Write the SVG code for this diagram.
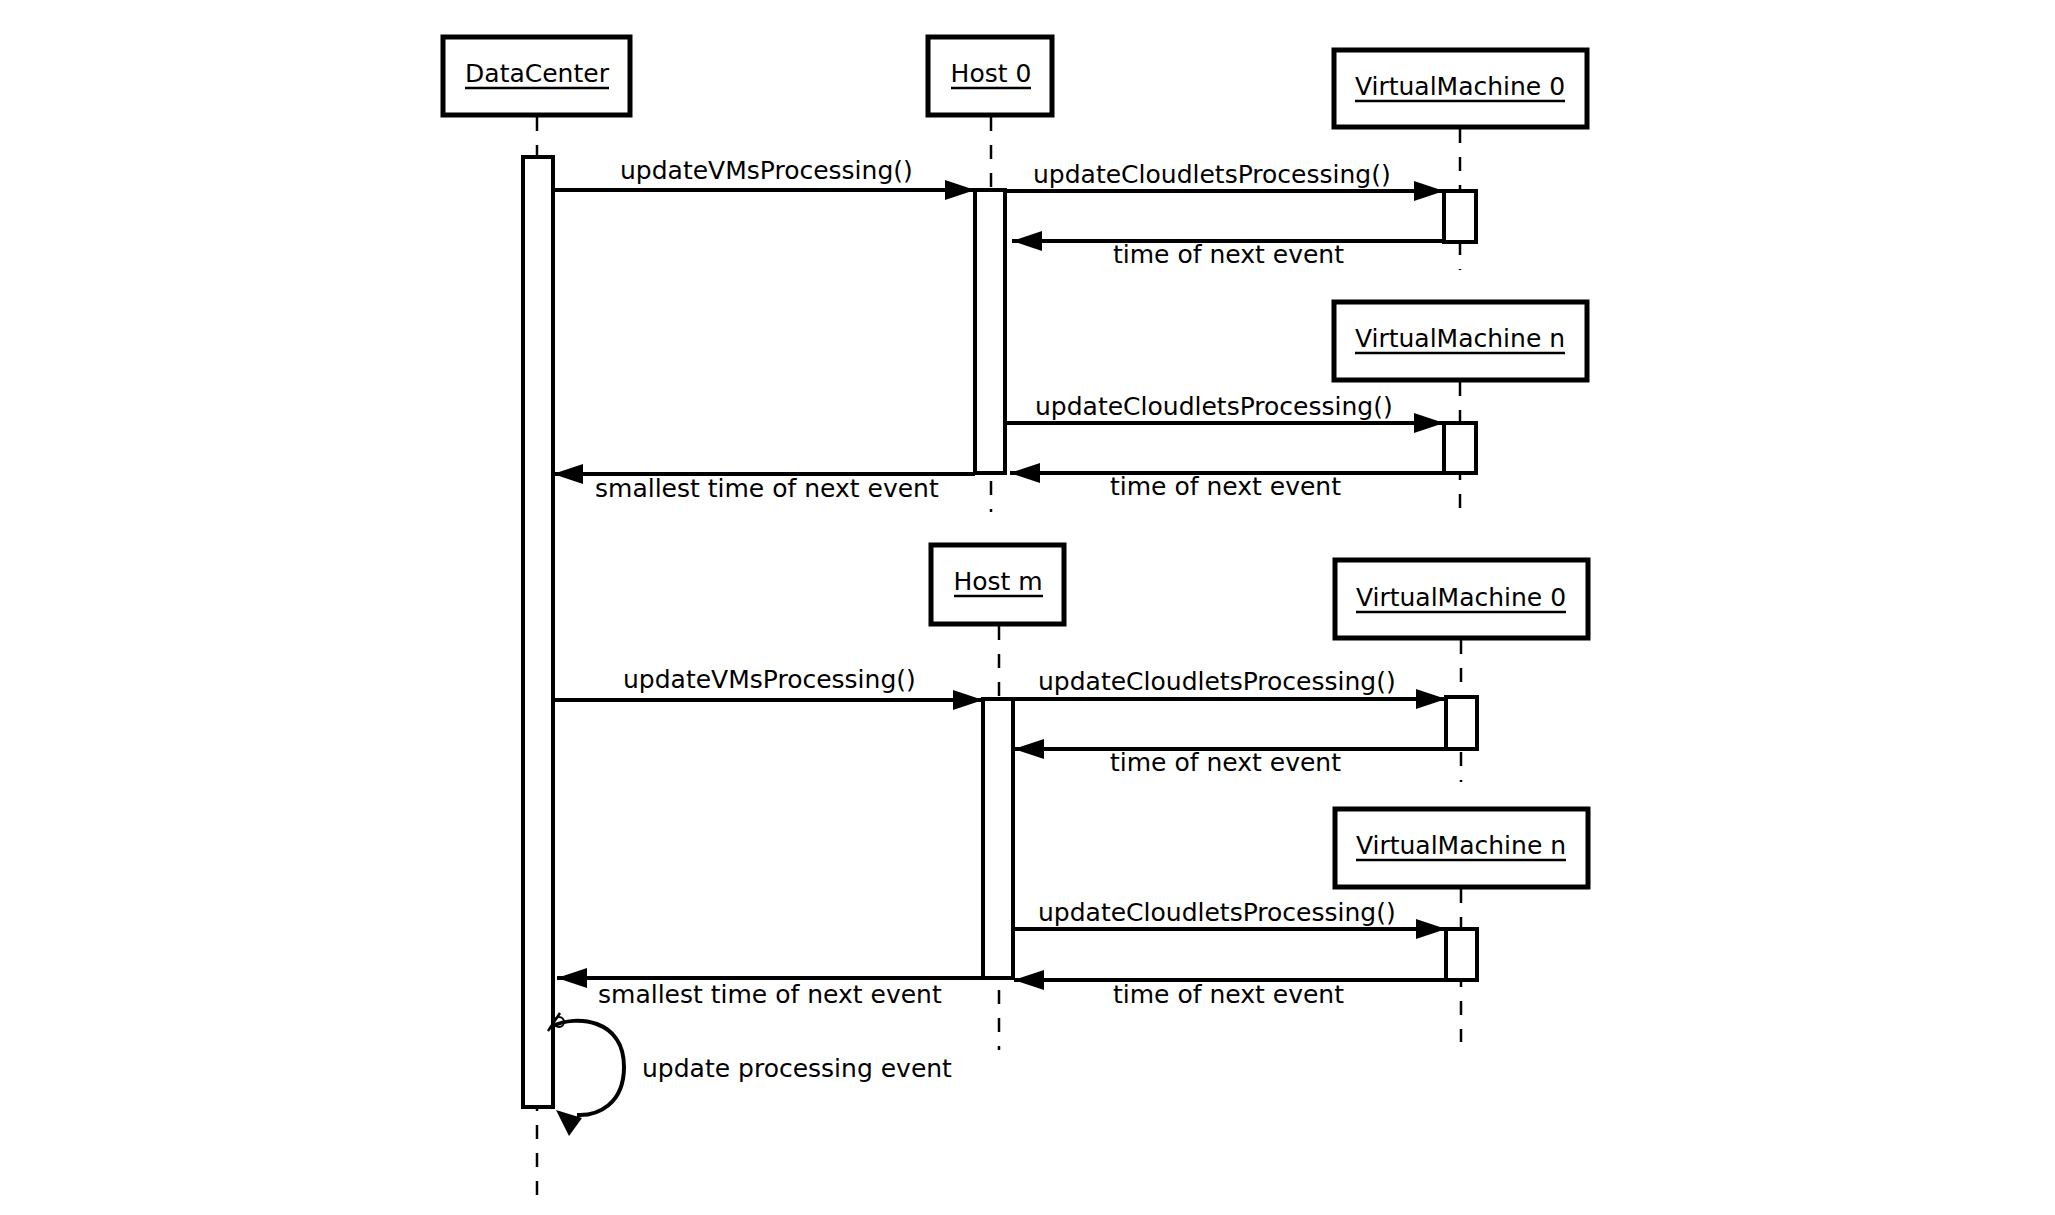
<svg xmlns="http://www.w3.org/2000/svg" width="2055" height="1215" viewBox="0 0 2055 1215">
<style>
.box{fill:#fff;stroke:#000;stroke-width:5}
.act{fill:#fff;stroke:#000;stroke-width:4}
.life{stroke:#000;stroke-width:2.5;stroke-dasharray:14 14;fill:none}
.msg{stroke:#000;stroke-width:4;fill:none;marker-end:url(#ah)}
.ul{stroke:#000;stroke-width:2.5}
.t{font-family:"DejaVu Sans",sans-serif;font-size:25px;fill:#000}
.n{font-family:"DejaVu Sans",sans-serif;font-size:25px;fill:#000;text-anchor:middle}
</style>
<defs>
<marker id="ah" markerUnits="userSpaceOnUse" markerWidth="32" markerHeight="20" refX="30" refY="10" orient="auto">
<path d="M0,0 L30,10 L0,20 Z" fill="#000"/>
</marker>
</defs>
<rect width="2055" height="1215" fill="#fff"/>

<g id="lifelines">
<line class="life" x1="537" y1="117" x2="537" y2="1198"/>
<line class="life" x1="991" y1="117" x2="991" y2="512"/>
<line class="life" x1="1460" y1="129" x2="1460" y2="270"/>
<line class="life" x1="1460" y1="382" x2="1460" y2="522"/>
<line class="life" x1="999" y1="626" x2="999" y2="1050"/>
<line class="life" x1="1461" y1="640" x2="1461" y2="782"/>
<line class="life" x1="1461" y1="889" x2="1461" y2="1042"/>
</g>

<g id="DataCenter">
<rect class="box" x="443" y="37" width="187" height="78"/>
<text class="n" x="537" y="82">DataCenter</text>
<line class="ul" x1="465" y1="88" x2="609" y2="88"/>
<rect class="act" x="523" y="157" width="30" height="950"/>
</g>

<g id="Host0">
<rect class="box" x="928" y="37" width="124" height="78"/>
<text class="n" x="991" y="82">Host 0</text>
<line class="ul" x1="951" y1="88" x2="1031" y2="88"/>
<rect class="act" x="975" y="190" width="30" height="283"/>
</g>

<g id="VM0a">
<rect class="box" x="1334" y="50" width="253" height="77"/>
<text class="n" x="1460" y="95">VirtualMachine 0</text>
<line class="ul" x1="1355" y1="101" x2="1565" y2="101"/>
<rect class="act" x="1444" y="191" width="32" height="51"/>
</g>

<g id="VMna">
<rect class="box" x="1334" y="302" width="253" height="78"/>
<text class="n" x="1460" y="347">VirtualMachine n</text>
<line class="ul" x1="1355" y1="353" x2="1565" y2="353"/>
<rect class="act" x="1444" y="423" width="32" height="50"/>
</g>

<g id="Hostm">
<rect class="box" x="931" y="545" width="133" height="79"/>
<text class="n" x="998" y="590">Host m</text>
<line class="ul" x1="954" y1="596" x2="1043" y2="596"/>
<rect class="act" x="983" y="699" width="30" height="279"/>
</g>

<g id="VM0b">
<rect class="box" x="1335" y="560" width="253" height="78"/>
<text class="n" x="1461" y="606">VirtualMachine 0</text>
<line class="ul" x1="1356" y1="612" x2="1566" y2="612"/>
<rect class="act" x="1446" y="697" width="31" height="52"/>
</g>

<g id="VMnb">
<rect class="box" x="1335" y="809" width="253" height="78"/>
<text class="n" x="1461" y="854">VirtualMachine n</text>
<line class="ul" x1="1356" y1="860" x2="1566" y2="860"/>
<rect class="act" x="1446" y="929" width="31" height="51"/>
</g>

<g id="connectors">
<line class="msg" x1="553" y1="190" x2="975" y2="190"/>
<text class="t" x="620" y="179">updateVMsProcessing()</text>
<line class="msg" x1="1005" y1="191" x2="1444" y2="191"/>
<text class="t" x="1033" y="183">updateCloudletsProcessing()</text>
<line class="msg" x1="1444" y1="241" x2="1012" y2="241"/>
<text class="t" x="1113" y="263">time of next event</text>

<line class="msg" x1="1005" y1="423" x2="1444" y2="423"/>
<text class="t" x="1035" y="415">updateCloudletsProcessing()</text>
<line class="msg" x1="1444" y1="473" x2="1010" y2="473"/>
<text class="t" x="1110" y="495">time of next event</text>
<line class="msg" x1="975" y1="474" x2="553" y2="474"/>
<text class="t" x="595" y="497">smallest time of next event</text>

<line class="msg" x1="553" y1="700" x2="983" y2="700"/>
<text class="t" x="623" y="688">updateVMsProcessing()</text>
<line class="msg" x1="1013" y1="699" x2="1446" y2="699"/>
<text class="t" x="1038" y="690">updateCloudletsProcessing()</text>
<line class="msg" x1="1446" y1="749" x2="1014" y2="749"/>
<text class="t" x="1110" y="771">time of next event</text>

<line class="msg" x1="1013" y1="929" x2="1446" y2="929"/>
<text class="t" x="1038" y="921">updateCloudletsProcessing()</text>
<line class="msg" x1="1446" y1="980" x2="1014" y2="980"/>
<text class="t" x="1113" y="1003">time of next event</text>
<line class="msg" x1="983" y1="978" x2="557" y2="978"/>
<text class="t" x="598" y="1003">smallest time of next event</text>

<path d="M553 1026 C575 1015 624 1018 624 1067 C624 1104 598 1116 577 1115" stroke="#000" stroke-width="4" fill="none"/>
<polygon points="556,1110 582,1118 569,1136" fill="#000"/>
<path d="M548 1031 L560 1013" stroke="#000" stroke-width="2.5" fill="none"/>
<circle cx="559" cy="1022" r="5" stroke="#000" stroke-width="2" fill="none"/>
<text class="t" x="642" y="1077">update processing event</text>
</g>
</svg>
